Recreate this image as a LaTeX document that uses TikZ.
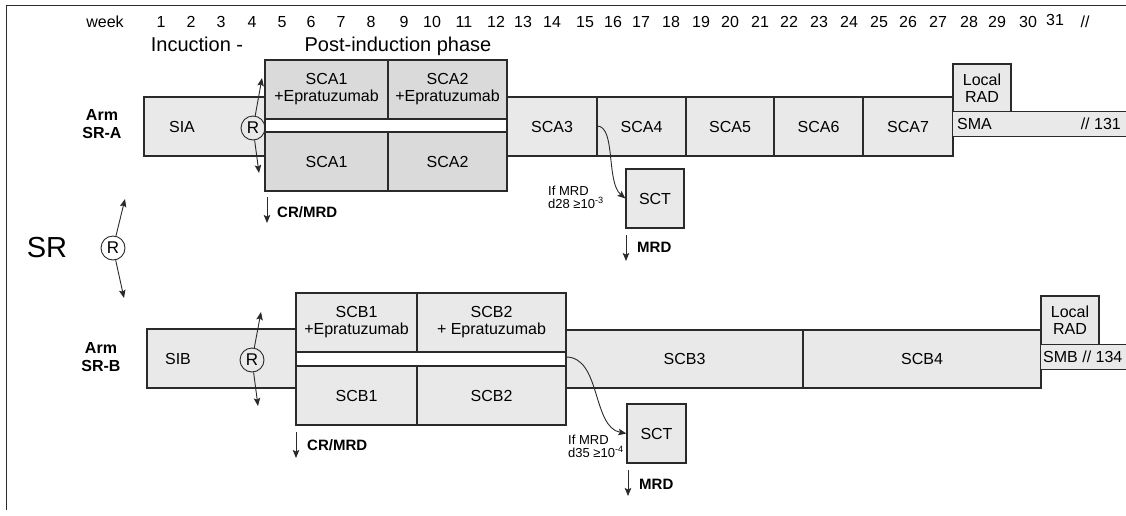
\documentclass[tikz,border=0pt]{standalone}
\usepackage{fontspec}
\setmainfont{Liberation Sans}
\usetikzlibrary{arrows.meta}
\definecolor{linec}{HTML}{2A2A2A}
\definecolor{fillL}{HTML}{E9E9E9}
\definecolor{fillD}{HTML}{DADADA}
\begin{document}
\begin{tikzpicture}[x=1pt,y=-1pt,
  box/.style={draw=linec,line width=1.2pt,fill=fillL,inner sep=0pt,align=center,font=\fontsize{16}{17}\selectfont},
  dbox/.style={box,fill=fillD},
  wbox/.style={box,fill=white},
  txt/.style={inner sep=0pt,font=\fontsize{16}{17}\selectfont},
  wk/.style={inner sep=0pt,anchor=base,font=\fontsize{16}{16}\selectfont},
  phase/.style={inner sep=0pt,anchor=base,font=\fontsize{20}{20}\selectfont},
  arr/.style={draw=linec,line width=0.9pt,-{Stealth[length=8pt,width=6.5pt,inset=1.5pt]}},
  rc/.style={circle,draw=linec,line width=0.9pt,minimum size=24pt,inner sep=0pt,font=\fontsize{17}{17}\selectfont},
  boldlab/.style={inner sep=0pt,anchor=west,font=\bfseries\fontsize{15}{15}\selectfont},
  armlab/.style={inner sep=0pt,align=center,font=\bfseries\fontsize{16}{18}\selectfont},
  small/.style={inner sep=0pt,anchor=west,align=left,font=\fontsize{13}{13}\selectfont},
]
\useasboundingbox (0,0) rectangle (1126,515);
% frame
\draw[linec,line width=1pt] (6,510) -- (6,5) -- (1126,5);

% header
\node[wk] (wkl) at (105,27) {week};
\foreach \n/\x in {1/161,2/191,3/221,4/252,5/282,6/311,7/341,8/371,9/404,10/432,11/464,12/496,13/523,14/552,15/585,16/613,17/641,18/671,19/701,20/730,21/760,22/789,23/819,24/849,25/879,26/908,27/938,28/969,29/997,30/1028}
  \node[wk] (w\n) at (\x,27) {\n};
\node[wk] (w31) at (1055,25) {31};
\node[wk] (wend) at (1085,27) {//};
\node[phase] (ind) at (197,51) {Incuction -};
\node[phase] (post) at (398,51) {Post-induction phase};

% SR
\node[inner sep=0pt,font=\fontsize{29}{29}\selectfont] (sr) at (47,248) {SR};
\node[rc,fill=white] (rSR) at (113,248) {R};
\coordinate (rSRup) at (125,199);
\coordinate (rSRdn) at (124,298);
\draw[arr] (rSR) -- (rSRup);
\draw[arr] (rSR) -- (rSRdn);

% ===== Arm SR-A =====
\node[armlab] (armA) at (102,124) {Arm\\SR-A};
\node[box,minimum width=121pt,minimum height=59pt] (sia) at (204.5,126.5) {};
\node[txt] (siat) at (182,127) {SIA};
\node[dbox,minimum width=123pt,minimum height=59pt] (sca1e) at (326.5,89.5) {SCA1\\+Epratuzumab};
\node[dbox,minimum width=119pt,minimum height=59pt] (sca2e) at (447.5,89.5) {SCA2\\+Epratuzumab};
\node[wbox,minimum width=242pt,minimum height=13pt] (stripA) at (386,125.5) {};
\node[dbox,minimum width=123pt,minimum height=59pt] (sca1) at (326.5,161.5) {SCA1};
\node[dbox,minimum width=119pt,minimum height=59pt] (sca2) at (447.5,161.5) {SCA2};
\node[box,minimum width=90pt,minimum height=59pt] (sca3) at (552,126.5) {SCA3};
\node[box,minimum width=89pt,minimum height=59pt] (sca4) at (641.5,126.5) {SCA4};
\node[box,minimum width=88pt,minimum height=59pt] (sca5) at (730,126.5) {SCA5};
\node[box,minimum width=89pt,minimum height=59pt] (sca6) at (818.5,126.5) {SCA6};
\node[box,minimum width=90pt,minimum height=59pt] (sca7) at (908,126.5) {SCA7};
\node[box,minimum width=58pt,minimum height=48pt] (radA) at (982,88) {Local\\RAD};
\node[fill=fillL,minimum width=173pt,minimum height=24pt,inner sep=0pt] (sma) at (1039.5,124) {};
\draw[linec,line width=1.2pt] (sma.north east) -- (sma.north west) -- (sma.south west) -- (sma.south east);
\node[txt,anchor=west] (smat) at (957,124) {SMA};
\node[txt,anchor=east] (smae) at (1121,124) {// 131};

\node[rc] (rA) at (253,128) {R};
\coordinate (rAup) at (262,78);
\coordinate (rAdn) at (259,173);
\draw[arr] (rA) -- (rAup);
\draw[arr] (rA) -- (rAdn);

\coordinate (crAs) at (267,197);
\coordinate (crAe) at (267,223);
\draw[arr] (crAs) -- (crAe);
\node[boldlab] (crA) at (277,212) {CR/MRD};

\node[box,minimum width=58pt,minimum height=59pt] (sctA) at (655,198.5) {SCT};
\coordinate (cA) at (597,126);
\draw[arr] (cA) .. controls (616,126) and (606,182) .. (sctA.west);
\node[small] (ifA) at (548,197) {If MRD\\d28 ≥10\textsuperscript{-3}};
\coordinate (mrdAs) at (626,235);
\coordinate (mrdAe) at (626,261);
\draw[arr] (mrdAs) -- (mrdAe);
\node[boldlab] (mrdA) at (637,247) {MRD};

% ===== Arm SR-B =====
\node[armlab] (armB) at (101,357) {Arm\\SR-B};
\node[box,minimum width=149pt,minimum height=59pt] (sib) at (221.5,358.5) {};
\node[txt] (sibt) at (178,359) {SIB};
\node[box,minimum width=121pt,minimum height=59pt] (scb1e) at (356.5,322.5) {SCB1\\+Epratuzumab};
\node[box,minimum width=149pt,minimum height=59pt] (scb2e) at (491.5,322.5) {SCB2\\+ Epratuzumab};
\node[wbox,minimum width=270pt,minimum height=14pt] (stripB) at (431,359) {};
\node[box,minimum width=121pt,minimum height=59pt] (scb1) at (356.5,395.5) {SCB1};
\node[box,minimum width=149pt,minimum height=59pt] (scb2) at (491.5,395.5) {SCB2};
\node[box,minimum width=237pt,minimum height=58pt] (scb3) at (684.5,359) {SCB3};
\node[box,minimum width=238pt,minimum height=58pt] (scb4) at (922,359) {SCB4};
\node[box,minimum width=58pt,minimum height=49pt] (radB) at (1070,320.5) {Local\\RAD};
\node[fill=fillL,minimum width=85pt,minimum height=24pt,inner sep=0pt] (smb) at (1083.5,357) {};
\draw[linec,line width=1.2pt] (smb.north east) -- (smb.north west) -- (smb.south west) -- (smb.south east);
\node[txt,anchor=west] (smbt) at (1043,357) {SMB // 134};

\node[rc] (rB) at (252,360) {R};
\coordinate (rBup) at (261,312);
\coordinate (rBdn) at (258,406);
\draw[arr] (rB) -- (rBup);
\draw[arr] (rB) -- (rBdn);

\coordinate (crBs) at (296,432);
\coordinate (crBe) at (296,458);
\draw[arr] (crBs) -- (crBe);
\node[boldlab] (crB) at (307,445) {CR/MRD};

\node[box,minimum width=59pt,minimum height=59pt] (sctB) at (656.5,433.5) {SCT};
\coordinate (cB) at (566,357);
\draw[arr] (cB) .. controls (601,357) and (592,427) .. (sctB.west);
\node[small] (ifB) at (568,446) {If MRD\\d35 ≥10\textsuperscript{-4}};
\coordinate (mrdBs) at (628,470);
\coordinate (mrdBe) at (628,496);
\draw[arr] (mrdBs) -- (mrdBe);
\node[boldlab] (mrdB) at (639,484) {MRD};
\end{tikzpicture}
\end{document}
